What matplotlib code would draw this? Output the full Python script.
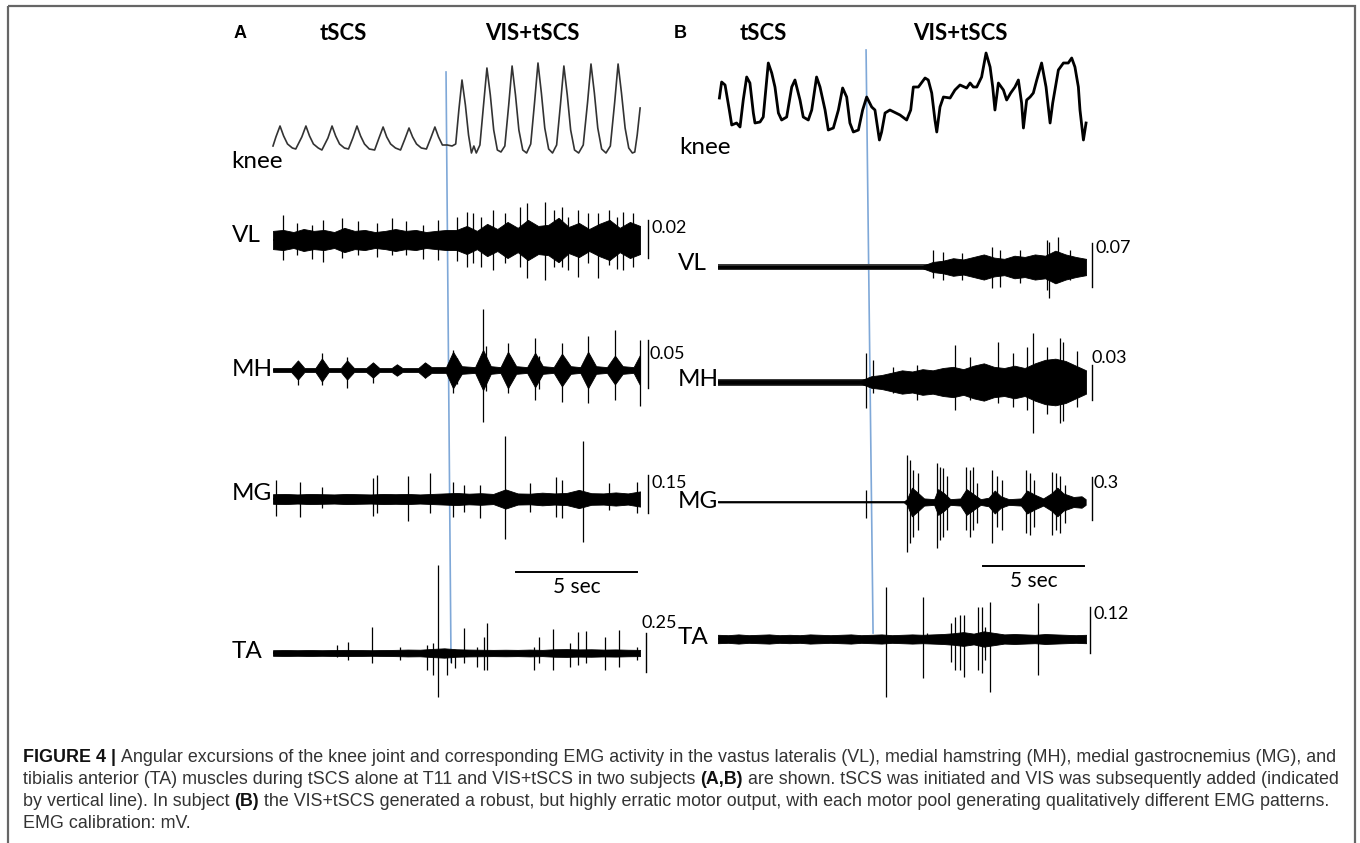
import numpy as np
import matplotlib
matplotlib.use("Agg")
import matplotlib.pyplot as plt

# ---------------- values ----------------
# knee angle (arbitrary deg) vs time (s)
knee_a_t = [0, 0.12, 0.29, 0.44, 0.6, 0.8, 0.94,
            1.19, 1.36, 1.51, 1.67, 1.87, 2.02,
            2.27, 2.44, 2.59, 2.75, 2.95, 3.12,
            3.3, 3.47, 3.62, 3.78, 3.98, 4.2,
            4.38, 4.55, 4.7, 4.86, 5.06, 5.27,
            5.45, 5.62, 5.77, 5.93, 6.13, 6.34,
            6.52, 6.69, 6.84, 7.0, 7.2, 7.4,
            7.55, 7.68, 7.81, 7.95, 8.08, 8.2, 8.3, 8.4,
            8.55, 8.7, 8.84, 8.98, 9.12, 9.27, 9.42,
            9.58, 9.74, 9.88, 10.02, 10.16, 10.32, 10.48,
            10.65, 10.81, 10.95, 11.09, 11.23, 11.39, 11.55,
            11.72, 11.88, 12.02, 12.16, 12.3, 12.46, 12.63,
            12.82, 13.0, 13.14, 13.28, 13.42, 13.58, 13.76,
            13.94, 14.12, 14.26, 14.4, 14.55, 14.7, 14.85,
            14.95, 15.05, 15.17]
knee_a_v = [4, 13, 24, 14, 6, 2, 1,
            13, 24, 14, 6, 2, 0,
            12, 24, 14, 6, 2, 1,
            12, 24, 14, 6, 1, 0,
            12, 23, 13, 6, 2, 0,
            11, 22, 13, 6, 2, 1,
            12, 23, 13, 5, 5, 4,
            6, 40, 70, 45, 15, -3, 4, -3,
            5, 45, 82, 55, 20, 0, -2,
            4, 45, 84, 55, 20, 0, -3,
            6, 48, 87, 57, 22, 1, -3,
            5, 46, 84, 55, 20, 0, -3,
            5, 48, 86, 57, 22, 1, -3,
            4, 48, 86, 57, 22, 2, -3,
            -2, 15, 42]

knee_b_t = [0.07, 0.18, 0.35, 0.56, 0.68, 0.92, 1.09, 1.25, 1.42, 1.58,
            1.75, 1.83, 2.08, 2.24, 2.49, 2.66, 2.82, 2.99, 3.15, 3.4,
            3.65, 3.81, 4.06, 4.22, 4.47, 4.64, 4.88, 5.05, 5.3, 5.46,
            5.71, 5.96, 6.17, 6.37, 6.53, 6.7, 6.95, 7.16, 7.36, 7.61,
            7.77, 7.99, 8.1, 8.27, 8.51, 9.01, 9.34, 9.54, 9.67, 9.92,
            10.25, 10.41, 10.58, 10.74, 10.83, 10.99, 11.16, 11.49, 11.73, 11.98,
            12.31, 12.48, 12.64, 12.81, 13.05, 13.27, 13.47, 13.6, 13.71, 13.88,
            14.13, 14.29, 14.49, 14.7, 14.87, 15.03, 15.12, 15.28, 15.45, 15.61,
            15.78, 16.02, 16.24, 16.44, 16.57, 16.85, 17.1, 17.34, 17.51, 17.67,
            17.84, 17.92, 18.09, 18.22]
knee_b_v = [52, 68, 65, 40, 25, 27, 23, 50, 73, 67,
            37, 27, 28, 33, 87, 77, 63, 37, 30, 33,
            63, 70, 50, 33, 30, 40, 73, 63, 40, 20,
            22, 40, 62, 53, 27, 18, 20, 40, 53, 43,
            40, 10, 18, 37, 40, 35, 30, 40, 63, 63,
            72, 70, 57, 30, 18, 43, 53, 52, 60, 65,
            62, 67, 63, 63, 73, 97, 83, 63, 40, 67,
            60, 50, 57, 63, 70, 47, 22, 50, 53, 57,
            70, 87, 63, 27, 47, 80, 87, 87, 92, 83,
            63, 40, 10, 27]

# EMG in mV: half-width of the dense band (evenly spaced over the record
# unless a time list is given) and single large deflections (up / down)
vl_a_env = [0.0048, 0.0053, 0.0042, 0.0058, 0.0048, 0.0053, 0.0042, 0.0064, 0.0048,
            0.0053, 0.0042, 0.0048, 0.0058, 0.0048, 0.0053, 0.0042, 0.0048, 0.0053,
            0.0053, 0.0074, 0.0048, 0.0085, 0.0058, 0.0095, 0.0064, 0.0106, 0.0074,
            0.008, 0.0117, 0.0069, 0.009, 0.0058, 0.0085, 0.0106, 0.0064, 0.0095, 0.0074]
vl_a_spk_t = [0.41, 1.0, 1.6, 2.07, 2.85, 3.5, 4.3, 4.92, 5.5, 6.2, 6.82, 7.6,
              8.02, 8.26, 8.6, 9.09, 9.6, 10.21, 10.5, 11.24, 11.6, 11.94, 12.2,
              12.6, 13.0, 13.43, 13.9, 14.2, 14.46, 14.88]
vl_a_spk_up = [0.0133, 0.009, 0.008, 0.0106, 0.0117, 0.01, 0.009, 0.0117, 0.01, 0.008,
               0.0106, 0.012, 0.0148, 0.0143, 0.012, 0.0159, 0.014, 0.0175, 0.0196,
               0.0201, 0.016, 0.0175, 0.012, 0.0159, 0.014, 0.0143, 0.016, 0.012,
               0.0148, 0.0143]
vl_a_spk_dn = [0.0106, 0.008, 0.01, 0.0117, 0.0095, 0.008, 0.009, 0.008, 0.008, 0.01,
               0.0106, 0.011, 0.0143, 0.0122, 0.014, 0.0159, 0.012, 0.0143, 0.0201,
               0.0212, 0.014, 0.0143, 0.016, 0.0196, 0.012, 0.0201, 0.013, 0.015,
               0.0159, 0.0143]

mh_a_env_t = [0, 0.75, 1.03, 1.3, 1.75, 2.02, 2.3, 2.8, 3.06, 3.35, 3.85, 4.13, 4.4,
              4.9, 5.12, 5.35, 6.0, 6.28, 6.55, 7.15, 7.44, 7.8, 8.35, 8.68, 9.0,
              9.4, 9.71, 10.05, 10.5, 10.83, 11.15, 11.6, 11.94, 12.3, 12.7, 13.02,
              13.35, 13.8, 14.13, 14.45, 14.9, 15.17]
mh_a_env = [0.002, 0.002, 0.010, 0.002, 0.002, 0.012, 0.002, 0.002, 0.010, 0.002,
            0.002, 0.008, 0.002, 0.002, 0.006, 0.002, 0.002, 0.008, 0.003, 0.003,
            0.019, 0.004, 0.003, 0.021, 0.004, 0.003, 0.019, 0.004, 0.003, 0.018,
            0.004, 0.003, 0.017, 0.004, 0.003, 0.019, 0.004, 0.003, 0.015, 0.004,
            0.003, 0.016]
mh_a_spk_t = [1.03, 2.02, 3.06, 4.13, 6.28, 7.44, 7.6, 8.68, 8.8, 9.71,
              10.83, 11.0, 11.94, 13.02, 14.13, 15.15]
mh_a_spk_up = [0.008, 0.018, 0.014, 0.006, 0.006, 0.021, 0.012, 0.064, 0.025, 0.028,
               0.033, 0.015, 0.028, 0.035, 0.042, 0.031]
mh_a_spk_dn = [0.016, 0.016, 0.019, 0.014, 0.008, 0.024, 0.015, 0.054, 0.022, 0.024,
               0.031, 0.02, 0.033, 0.034, 0.031, 0.038]

mg_a_env = [0.019, 0.02, 0.018, 0.02, 0.019, 0.018, 0.02, 0.019, 0.018, 0.02,
            0.019, 0.02, 0.018, 0.02, 0.022, 0.024, 0.021, 0.023, 0.02, 0.038,
            0.022, 0.021, 0.025, 0.022, 0.024, 0.036, 0.023, 0.022, 0.026, 0.022, 0.03]
mg_a_spk_t = [0.12, 1.12, 2.02, 4.13, 4.3, 5.58, 6.49, 7.44, 7.89, 8.55,
              9.59, 10.62, 11.69, 11.94, 12.81, 13.88, 15.04]
mg_a_spk_up = [0.074, 0.066, 0.047, 0.082, 0.094, 0.09, 0.101, 0.066, 0.055, 0.055,
               0.25, 0.062, 0.086, 0.074, 0.23, 0.062, 0.066]
mg_a_spk_dn = [0.066, 0.07, 0.035, 0.066, 0.055, 0.086, 0.055, 0.07, 0.051, 0.074,
               0.156, 0.051, 0.07, 0.074, 0.168, 0.043, 0.055]

ta_a_env = [0.018, 0.019, 0.018, 0.019, 0.018, 0.019, 0.02, 0.019, 0.018, 0.019,
            0.02, 0.022, 0.021, 0.026, 0.03, 0.024, 0.022, 0.021, 0.02, 0.021,
            0.02, 0.022, 0.02, 0.024, 0.025, 0.023, 0.024, 0.022, 0.023, 0.021, 0.02]
ta_a_spk_t = [2.64, 3.1, 4.09, 5.25, 6.36, 6.61, 6.82, 7.19, 7.36, 7.52, 7.89, 8.43,
              8.72, 8.84, 10.79, 10.99, 11.57, 12.27, 12.6, 12.93, 13.72, 14.3, 15.04]
ta_a_spk_up = [0.051, 0.07, 0.166, 0.038, 0.051, 0.064, 0.563, 0.019, 0.006, 0.019, 0.16, 0.038,
               0.102, 0.192, 0.038, 0.102, 0.154, 0.064, 0.134, 0.141, 0.102, 0.147, 0.038]
ta_a_spk_dn = [0.026, 0.045, 0.064, 0.045, 0.109, 0.141, 0.282, 0.141, 0.064, 0.096, 0.064, 0.09,
               0.109, 0.109, 0.109, 0.064, 0.109, 0.09, 0.077, 0.064, 0.109, 0.09, 0.045]

vl_b_env = [0.002] * 21 + [0.008, 0.01, 0.014, 0.012, 0.016, 0.02, 0.015, 0.013,
                           0.018, 0.016, 0.02, 0.018, 0.026, 0.02, 0.016, 0.013]
vl_b_art = 0.0055   # stimulation artefact ripple
vl_b_spk_t = [10.64, 11.14, 12.08, 13.56, 13.96, 14.95, 16.29, 16.39, 16.83, 17.43]
vl_b_spk_up = [0.027, 0.024, 0.022, 0.032, 0.027, 0.027, 0.043, 0.04, 0.048, 0.027]
vl_b_spk_dn = [0.018, 0.021, 0.021, 0.034, 0.032, 0.026, 0.037, 0.05, 0.024, 0.021]

mh_b_env = [0.0015] * 15 + [0.005, 0.006, 0.008, 0.01, 0.009, 0.011, 0.01, 0.012, 0.013,
                            0.011, 0.014, 0.016, 0.013, 0.012, 0.014, 0.012, 0.016,
                            0.019, 0.02, 0.018, 0.014, 0.01]
mh_b_art = 0.003
mh_b_spk_t = [7.33, 7.67, 8.66, 9.85, 11.73, 12.48, 13.86, 14.6, 15.3, 15.59,
              16.29, 16.93, 17.08, 17.77]
mh_b_spk_up = [0.025, 0.019, 0.013, 0.015, 0.032, 0.0215, 0.034, 0.025, 0.03, 0.042,
               0.03, 0.038, 0.034, 0.027]
mh_b_spk_dn = [0.022, 0.0095, 0.0095, 0.015, 0.024, 0.015, 0.018, 0.0215, 0.024, 0.044,
               0.027, 0.035, 0.033, 0.0215]

mg_b_env_t = [0, 9.2, 9.35, 9.6, 9.85, 10.2, 10.7, 10.9, 11.2, 11.5, 12.0, 12.3, 12.7, 13.0,
              13.4, 13.7, 14.0, 14.4, 15.0, 15.3, 15.7, 16.1, 16.5, 16.8, 17.1, 17.6, 18.0, 18.2]
mg_b_env = [0.003, 0.003, 0.02, 0.1, 0.07, 0.025, 0.02, 0.09, 0.06, 0.02, 0.025, 0.09, 0.05, 0.02,
            0.03, 0.08, 0.04, 0.02, 0.025, 0.08, 0.05, 0.025, 0.06, 0.1, 0.06, 0.035, 0.04, 0.02]
mg_b_spk_t = [7.33, 9.36, 9.5, 9.65, 9.9, 10.84, 10.99, 11.14, 11.34, 12.28, 12.48, 12.62,
              12.82, 13.56, 13.81, 14.06, 15.25, 15.45, 15.64, 16.53, 16.73, 16.93, 17.18]
mg_b_spk_up = [0.084, 0.33, 0.294, 0.224, 0.203, 0.273, 0.245, 0.238, 0.182, 0.245, 0.224, 0.245,
               0.133, 0.224, 0.182, 0.154, 0.224, 0.203, 0.154, 0.21, 0.203, 0.182, 0.119]
mg_b_spk_dn = [0.112, 0.35, 0.287, 0.245, 0.196, 0.322, 0.266, 0.245, 0.196, 0.196, 0.245, 0.196,
               0.147, 0.287, 0.175, 0.196, 0.217, 0.231, 0.175, 0.231, 0.196, 0.217, 0.147]

ta_b_env = [0.011, 0.01, 0.012, 0.01, 0.011, 0.012, 0.01, 0.011, 0.01, 0.012, 0.011,
            0.01, 0.011, 0.012, 0.01, 0.011, 0.012, 0.01, 0.011, 0.012, 0.011, 0.012,
            0.013, 0.015, 0.018, 0.014, 0.02, 0.016, 0.012,
            0.013, 0.012, 0.011, 0.013, 0.012, 0.011, 0.01, 0.011]
ta_b_spk_t = [8.32, 10.15, 10.35, 11.53, 11.73, 11.98, 12.18, 12.87, 13.07, 13.22, 13.47, 15.84]
ta_b_spk_up = [0.135, 0.109, 0.016, 0.042, 0.057, 0.062, 0.062, 0.083, 0.083, 0.031, 0.096, 0.094]
ta_b_spk_dn = [0.151, 0.101, 0.003, 0.06, 0.081, 0.081, 0.099, 0.081, 0.088, 0.055, 0.138, 0.094]

muscles = ["VL", "MH", "MG", "TA"]
cal_a = [0.02, 0.05, 0.15, 0.25]     # calibration bars, mV
cal_b = [0.07, 0.03, 0.3, 0.12]
dur_a, dur_b = 15.17, 18.22          # record length, s
vis_on_a, vis_on_b = 7.15, 7.33      # VIS added, s
time_bar = 5                         # s

# ---------------- layout (image pixels) ----------------
W, H = 1360, 843
fig = plt.figure(figsize=(W / 100, H / 100), dpi=100)
LAB = ["Lato", "DejaVu Sans"]
CAP = ["Liberation Sans", "DejaVu Sans"]


def px_axes(x0, y0, x1, y1):
    ax = fig.add_axes([x0 / W, 1 - y1 / H, (x1 - x0) / W, (y1 - y0) / H])
    ax.set_axis_off()
    ax.patch.set_alpha(0)
    return ax


page = px_axes(0, 0, W, H)
page.set_xlim(0, W)
page.set_ylim(H, 0)
page.add_patch(plt.Rectangle((8, 6), 1347, 845, fill=False, ec="#666666", lw=1.6))

panels = {
    "A": dict(x0=273, pps=24.2, dur=dur_a, vis=vis_on_a, cal=cal_a,
              yc=[240, 370, 499, 653], bar_px=[38, 48, 38, 39], bar_c=[239, 364, 494, 652],
              bar_x=[648, 648, 648, 646],
              cal_xy=[(652, 228), (650, 354), (652, 483), (642, 623)],
              lab_x=232, lab_y=[235, 370, 494, 652], knee_lab=(231, 161),
              knee=(knee_a_t, knee_a_v), knee_lw=1.2, knee_c="#333333",
              vis_line=(72, 662, 5), tbar_y=572, tbar_end=637,
              head=(234, 343, 532)),
    "B": dict(x0=718, pps=20.2, dur=dur_b, vis=vis_on_b, cal=cal_b,
              yc=[267, 382, 502, 639], bar_px=[44, 35, 43, 46], bar_c=[265, 382, 498, 630],
              bar_x=[1092, 1092, 1092, 1090],
              cal_xy=[(1095, 248), (1092, 358), (1094, 483), (1094, 614)],
              lab_x=678, lab_y=[264, 379, 502, 637], knee_lab=(679, 147),
              knee=(knee_b_t, knee_b_v), knee_lw=2.0, knee_c="black",
              vis_line=(50, 633, 7), tbar_y=566, tbar_end=1084,
              head=(674, 763, 960)),
}

emg = {
    "A": [(None, vl_a_env, vl_a_spk_t, vl_a_spk_up, vl_a_spk_dn, 0),
          (mh_a_env_t, mh_a_env, mh_a_spk_t, mh_a_spk_up, mh_a_spk_dn, 0),
          (None, mg_a_env, mg_a_spk_t, mg_a_spk_up, mg_a_spk_dn, 0),
          (None, ta_a_env, ta_a_spk_t, ta_a_spk_up, ta_a_spk_dn, 0)],
    "B": [(None, vl_b_env, vl_b_spk_t, vl_b_spk_up, vl_b_spk_dn, vl_b_art),
          (None, mh_b_env, mh_b_spk_t, mh_b_spk_up, mh_b_spk_dn, mh_b_art),
          (mg_b_env_t, mg_b_env, mg_b_spk_t, mg_b_spk_up, mg_b_spk_dn, 0),
          (None, ta_b_env, ta_b_spk_t, ta_b_spk_up, ta_b_spk_dn, 0)],
}

for name, p in panels.items():
    x0, pps, dur = p["x0"], p["pps"], p["dur"]
    x1 = x0 + dur * pps

    # knee angle
    ax = px_axes(x0, 40, x1, 160)
    ax.set_xlim(0, dur)
    ax.set_ylim(-10, 110)
    ax.plot(p["knee"][0], p["knee"][1], color=p["knee_c"], lw=p["knee_lw"], clip_on=False)
    page.text(*p["knee_lab"], "knee", family=LAB, fontsize=17.5, va="center", ha="left")

    for i, (et, env, st, su, sd, art) in enumerate(emg[name]):
        yc = p["yc"][i]
        mpp = p["cal"][i] / p["bar_px"][i]        # mV per pixel
        ax = px_axes(x0, yc - 110, x1, yc + 110)
        ax.set_xlim(0, dur)
        ax.set_ylim(-110 * mpp, 110 * mpp)
        env = np.array(env)
        t = np.linspace(0, dur, len(env)) if et is None else et
        if art:
            ax.fill_between([0, dur], -art, art, color="#3a3a3a", lw=0)
        ax.plot([0, dur], [0, 0], color="black", lw=1.2)
        ax.fill_between(t, -env, env, color="black", lw=0.6)
        ax.vlines(st, -np.array(sd), su, color="black", lw=0.9, clip_on=False)

        # calibration bar
        bx = (p["bar_x"][i] - x0) / pps
        boff = (yc - p["bar_c"][i]) * mpp
        ax.plot([bx, bx], [boff - p["cal"][i] / 2, boff + p["cal"][i] / 2],
                color="black", lw=1.0, clip_on=False)
        page.text(*p["cal_xy"][i], f"{p['cal'][i]:g}", family=LAB, fontsize=13,
                  va="center", ha="left")
        page.text(p["lab_x"], p["lab_y"][i], muscles[i], family=LAB, fontsize=17.5,
                  va="center", ha="left")

    # VIS onset line
    top, bot, slant = p["vis_line"]
    xv = x0 + p["vis"] * pps
    page.plot([xv, xv + slant], [top, bot], color="#7fa8d8", lw=1.2, zorder=5)

    # 5 s time bar
    te = p["tbar_end"]
    page.plot([te - time_bar * pps, te], [p["tbar_y"]] * 2, color="black", lw=1.4)
    page.text(te - time_bar * pps / 2, p["tbar_y"] + 15, f"{time_bar} sec", family=LAB,
              fontsize=15, va="center", ha="center")

    hx, sx, vx = p["head"]
    page.text(hx, 33, name, family=["Liberation Sans", "DejaVu Sans"], fontsize=13,
              fontweight="bold", va="center", ha="left")
    page.text(sx, 33, "tSCS", family=LAB, fontsize=16, fontweight="bold", va="center", ha="center")
    page.text(vx, 33, "VIS+tSCS", family=LAB, fontsize=16, fontweight="bold",
              va="center", ha="center")

# caption
renderer = fig.canvas.get_renderer()
caption = [
    [("FIGURE 4 |", True), ("Angular excursions of the knee joint and corresponding EMG activity in "
                           "the vastus lateralis (VL), medial hamstring (MH), medial gastrocnemius (MG), and", False)],
    [("tibialis anterior (TA) muscles during tSCS alone at T11 and VIS+tSCS in two subjects", False),
     ("(A,B)", True), ("are shown. tSCS was initiated and VIS was subsequently added (indicated", False)],
    [("by vertical line). In subject", False), ("(B)", True),
     ("the VIS+tSCS generated a robust, but highly erratic motor output, with each motor pool "
      "generating qualitatively different EMG patterns.", False)],
    [("EMG calibration: mV.", False)],
]


def text_w(s, bold, size):
    t = page.text(0, 0, s, family=CAP, fontsize=size,
                  fontweight="bold" if bold else "normal")
    w = t.get_window_extent(renderer).width
    t.remove()
    return w


def row_w(row, size):
    sp = text_w("a a", False, size) - text_w("aa", False, size)
    return sum(text_w(s, b, size) for s, b in row) + sp * (len(row) - 1)


# fit the first (full) caption line to the box width
cap_size = 12.0
cap_size *= 1312 / row_w(caption[0], cap_size)
space = text_w("a a", False, cap_size) - text_w("aa", False, cap_size)

for row, y in zip(caption, [758, 780, 802, 824]):
    x = 23
    for s, bold in row:
        page.text(x, y, s, family=CAP, fontsize=cap_size, fontweight="bold" if bold else "normal",
                  color="#111111" if bold else "#333333", va="center", ha="left")
        x += text_w(s, bold, cap_size) + space

fig.savefig("out.png", dpi=100)
